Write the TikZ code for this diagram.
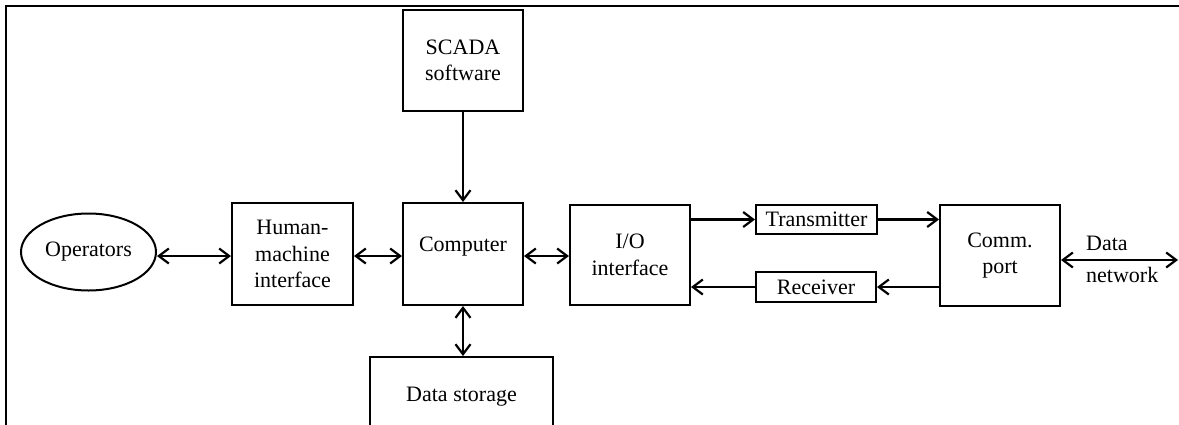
\documentclass[tikz,border=0pt]{standalone}
\usepackage{fontspec}
\setmainfont{Liberation Serif}
\usetikzlibrary{arrows.meta,shapes.geometric}
\begin{document}
\begin{tikzpicture}[x=1pt,y=-1pt,
  txt/.style={font=\fontsize{22}{26.5}\selectfont,align=center,inner sep=0pt},
  box/.style={txt,draw,line width=2pt,rectangle},
  conn/.style={line width=2.2pt,-{Straight Barb[length=10pt,width=15pt,line width=2.2pt]}},
  dconn/.style={line width=2.2pt,{Straight Barb[length=10pt,width=15pt,line width=2.2pt]}-{Straight Barb[length=10pt,width=15pt,line width=2.2pt]}}
]
\useasboundingbox (0,0) rectangle (1179,424);
% outer frame (open at right and bottom)
\draw[line width=2pt] (6,430) -- (6,6) -- (1185,6);

\coordinate (rowy) at (0,256);
\coordinate (netend) at (1178,260);

\node[txt,draw,line width=2pt,ellipse,minimum width=135pt,minimum height=77pt] (op) at (88.5,252) {Operators};
\node[box,minimum width=121pt,minimum height=102pt] (hmi) at (292.5,254) {Human-\\machine\\interface};
\node[box,minimum width=120pt,minimum height=101pt] (scada) at (463,60.5) {SCADA\\software};
\node[box,minimum width=120pt,minimum height=102pt] (comp) at (463,254) {};
\node[txt] (compt) at (463,247) {Computer};
\node[box,minimum width=183pt,minimum height=79pt] (store) at (461.5,396.5) {Data storage};
\node[box,minimum width=120pt,minimum height=100pt] (io) at (630,255) {I/O\\interface};
\node[box,minimum width=121pt,minimum height=29pt] (tx) at (816.5,219.5) {Transmitter};
\node[box,minimum width=120pt,minimum height=30pt] (rx) at (816,287) {Receiver};
\node[box,minimum width=120pt,minimum height=101pt] (comm) at (1000,255.5) {Comm.\\port};
\node[txt,align=left,anchor=west] (netlbl) at (1086,259) {Data\\[5.5pt]network};

\draw[dconn] (op.east |- rowy) -- (hmi.west |- rowy);
\draw[dconn] (hmi.east |- rowy) -- (comp.west |- rowy);
\draw[conn,line width=1.6pt] (scada.south) -- (comp.north);
\draw[dconn] (comp.south) -- (comp.south |- store.north);
\draw[dconn] (comp.east |- rowy) -- (io.west |- rowy);
\draw[conn] (io.east |- tx.west) -- (tx.west);
\draw[conn] (tx.east) -- (tx.east -| comm.west);
\draw[conn] (comm.west |- rx.east) -- (rx.east);
\draw[conn] (rx.west) -- (rx.west -| io.east);
\draw[dconn] (comm.east |- netend) -- (netend);
\end{tikzpicture}
\end{document}
